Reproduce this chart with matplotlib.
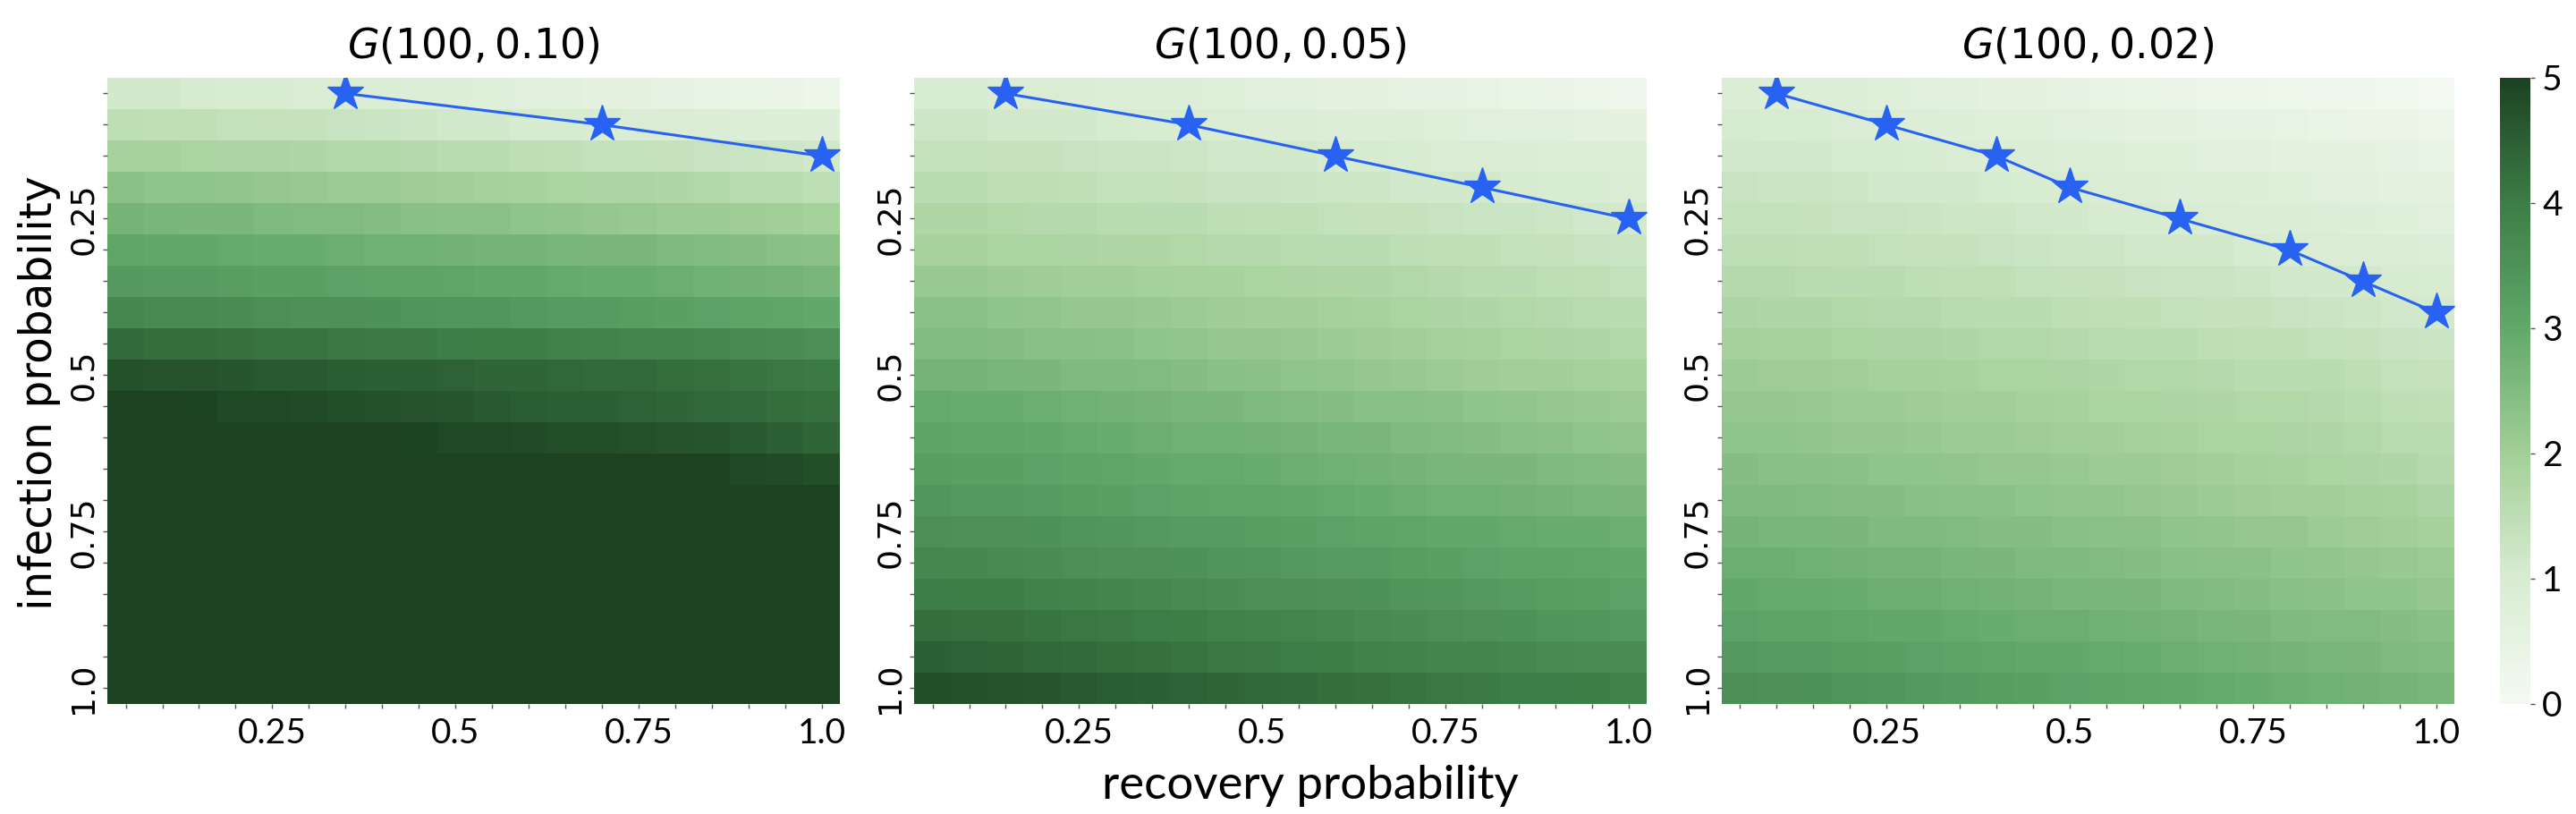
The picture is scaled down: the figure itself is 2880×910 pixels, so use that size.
import numpy as np
import matplotlib.pyplot as plt
from matplotlib.colors import LinearSegmentedColormap

# probabilities on both axes (cell centres)
probs = [0.05, 0.10, 0.15, 0.20, 0.25, 0.30, 0.35, 0.40, 0.45, 0.50,
         0.55, 0.60, 0.65, 0.70, 0.75, 0.80, 0.85, 0.90, 0.95, 1.00]
tick_labels = ["0.25", "0.5", "0.75", "1.0"]
tick_vals = [0.25, 0.5, 0.75, 1.0]

titles = ["$G(100, 0.10)$", "$G(100, 0.05)$", "$G(100, 0.02)$"]

# rows = infection probability (0.05 at top), cols = recovery probability
grid_010 = [
    [1.1, 1.1, 1.05, 1.0, 1.0, 0.95, 0.95, 0.9, 0.85, 0.8, 0.75, 0.7, 0.65, 0.6, 0.6, 0.5, 0.45, 0.4, 0.35, 0.3],
    [1.5, 1.45, 1.45, 1.4, 1.35, 1.35, 1.3, 1.25, 1.2, 1.15, 1.1, 1.05, 1.05, 1.0, 0.95, 0.95, 0.9, 0.85, 0.8, 0.8],
    [1.9, 1.9, 1.85, 1.8, 1.8, 1.75, 1.7, 1.7, 1.65, 1.6, 1.55, 1.5, 1.45, 1.4, 1.4, 1.35, 1.3, 1.25, 1.2, 1.15],
    [2.35, 2.3, 2.3, 2.25, 2.2, 2.15, 2.1, 2.1, 2.05, 2.0, 1.95, 1.9, 1.85, 1.8, 1.8, 1.75, 1.7, 1.6, 1.55, 1.5],
    [2.7, 2.65, 2.6, 2.6, 2.55, 2.5, 2.5, 2.45, 2.4, 2.35, 2.35, 2.3, 2.25, 2.2, 2.15, 2.1, 2.1, 2.05, 2.0, 1.95],
    [3.05, 3.0, 3.0, 2.95, 2.9, 2.9, 2.85, 2.8, 2.8, 2.75, 2.7, 2.7, 2.65, 2.6, 2.6, 2.55, 2.5, 2.45, 2.4, 2.35],
    [3.35, 3.3, 3.3, 3.25, 3.2, 3.2, 3.15, 3.1, 3.1, 3.05, 3.0, 3.0, 2.95, 2.9, 2.9, 2.85, 2.8, 2.75, 2.7, 2.65],
    [3.75, 3.7, 3.7, 3.65, 3.6, 3.55, 3.55, 3.5, 3.45, 3.4, 3.4, 3.35, 3.3, 3.3, 3.25, 3.2, 3.15, 3.1, 3.05, 3.0],
    [4.3, 4.25, 4.25, 4.2, 4.15, 4.15, 4.1, 4.05, 4.05, 4.0, 3.95, 3.95, 3.9, 3.85, 3.8, 3.8, 3.75, 3.7, 3.65, 3.6],
    [4.75, 4.7, 4.7, 4.65, 4.6, 4.6, 4.55, 4.5, 4.5, 4.45, 4.4, 4.4, 4.35, 4.3, 4.3, 4.25, 4.2, 4.15, 4.1, 4.05],
    [5.0, 5.0, 4.95, 4.9, 4.9, 4.85, 4.8, 4.75, 4.7, 4.65, 4.6, 4.55, 4.5, 4.5, 4.45, 4.4, 4.35, 4.3, 4.25, 4.2],
    [5.0, 5.0, 5.0, 5.0, 5.0, 5.0, 5.0, 5.0, 4.95, 4.9, 4.9, 4.85, 4.8, 4.8, 4.75, 4.7, 4.65, 4.6, 4.5, 4.4],
    [5.0, 5.0, 5.0, 5.0, 5.0, 5.0, 5.0, 5.0, 5.0, 5.0, 5.0, 5.0, 5.0, 5.0, 5.0, 5.0, 5.0, 4.9, 4.85, 4.8],
    [5.0] * 20,
    [5.0] * 20,
    [5.0] * 20,
    [5.0] * 20,
    [5.0] * 20,
    [5.0] * 20,
    [5.0] * 20,
]

grid_005 = [
    [1.0, 1.0, 0.95, 0.95, 0.9, 0.85, 0.8, 0.8, 0.75, 0.7, 0.65, 0.6, 0.55, 0.5, 0.5, 0.45, 0.4, 0.35, 0.3, 0.2],
    [1.2, 1.2, 1.15, 1.1, 1.1, 1.05, 1.0, 1.0, 0.95, 0.9, 0.9, 0.85, 0.8, 0.8, 0.75, 0.7, 0.7, 0.65, 0.6, 0.6],
    [1.4, 1.4, 1.35, 1.35, 1.3, 1.25, 1.25, 1.2, 1.15, 1.15, 1.1, 1.05, 1.05, 1.0, 0.95, 0.95, 0.9, 0.85, 0.85, 0.8],
    [1.55, 1.55, 1.5, 1.5, 1.45, 1.4, 1.4, 1.35, 1.3, 1.3, 1.25, 1.2, 1.2, 1.15, 1.1, 1.1, 1.05, 1.0, 1.0, 0.95],
    [1.75, 1.75, 1.7, 1.65, 1.65, 1.6, 1.55, 1.55, 1.5, 1.45, 1.45, 1.4, 1.35, 1.35, 1.3, 1.25, 1.25, 1.2, 1.15, 1.1],
    [1.9, 1.9, 1.85, 1.85, 1.8, 1.75, 1.75, 1.7, 1.65, 1.65, 1.6, 1.55, 1.55, 1.5, 1.45, 1.45, 1.4, 1.35, 1.3, 1.25],
    [2.15, 2.15, 2.1, 2.05, 2.0, 2.0, 1.95, 1.9, 1.9, 1.85, 1.8, 1.75, 1.75, 1.7, 1.65, 1.6, 1.55, 1.5, 1.45, 1.4],
    [2.35, 2.35, 2.3, 2.25, 2.2, 2.2, 2.15, 2.1, 2.05, 2.0, 2.0, 1.95, 1.9, 1.85, 1.8, 1.75, 1.7, 1.65, 1.6, 1.55],
    [2.5, 2.5, 2.45, 2.4, 2.4, 2.35, 2.3, 2.25, 2.2, 2.2, 2.15, 2.1, 2.05, 2.0, 1.95, 1.9, 1.85, 1.8, 1.75, 1.7],
    [2.7, 2.7, 2.65, 2.6, 2.55, 2.55, 2.5, 2.45, 2.4, 2.35, 2.3, 2.25, 2.2, 2.15, 2.1, 2.05, 2.0, 2.0, 1.95, 1.9],
    [2.95, 2.9, 2.9, 2.85, 2.8, 2.75, 2.7, 2.65, 2.6, 2.55, 2.5, 2.45, 2.4, 2.4, 2.35, 2.3, 2.25, 2.2, 2.15, 2.1],
    [3.1, 3.05, 3.05, 3.0, 2.95, 2.9, 2.85, 2.8, 2.8, 2.75, 2.7, 2.65, 2.6, 2.55, 2.5, 2.45, 2.4, 2.35, 2.3, 2.25],
    [3.25, 3.2, 3.2, 3.15, 3.1, 3.05, 3.0, 2.95, 2.95, 2.9, 2.85, 2.8, 2.75, 2.7, 2.65, 2.6, 2.6, 2.55, 2.5, 2.45],
    [3.4, 3.35, 3.35, 3.3, 3.25, 3.2, 3.15, 3.1, 3.05, 3.05, 3.0, 2.95, 2.9, 2.85, 2.8, 2.8, 2.75, 2.7, 2.65, 2.6],
    [3.6, 3.55, 3.55, 3.5, 3.45, 3.4, 3.35, 3.3, 3.3, 3.25, 3.2, 3.15, 3.1, 3.05, 3.0, 3.0, 2.95, 2.9, 2.9, 2.85],
    [3.75, 3.75, 3.7, 3.65, 3.6, 3.55, 3.55, 3.5, 3.45, 3.4, 3.35, 3.3, 3.3, 3.25, 3.2, 3.15, 3.1, 3.1, 3.05, 3.0],
    [4.0, 3.95, 3.95, 3.9, 3.85, 3.8, 3.75, 3.7, 3.65, 3.6, 3.6, 3.55, 3.5, 3.45, 3.4, 3.35, 3.3, 3.25, 3.2, 3.15],
    [4.25, 4.2, 4.2, 4.15, 4.1, 4.05, 4.0, 3.95, 3.9, 3.85, 3.8, 3.75, 3.7, 3.65, 3.6, 3.55, 3.5, 3.45, 3.4, 3.35],
    [4.5, 4.45, 4.4, 4.35, 4.3, 4.25, 4.2, 4.15, 4.1, 4.05, 4.0, 3.95, 3.9, 3.85, 3.8, 3.8, 3.75, 3.7, 3.65, 3.65],
    [4.8, 4.75, 4.7, 4.65, 4.6, 4.55, 4.5, 4.45, 4.4, 4.35, 4.3, 4.25, 4.2, 4.15, 4.1, 4.05, 4.0, 4.0, 3.95, 3.9],
]

grid_002 = [
    [0.9, 0.85, 0.85, 0.8, 0.75, 0.7, 0.65, 0.6, 0.55, 0.5, 0.45, 0.4, 0.35, 0.3, 0.3, 0.25, 0.2, 0.15, 0.1, 0.05],
    [1.05, 1.0, 1.0, 0.95, 0.9, 0.85, 0.8, 0.75, 0.75, 0.7, 0.65, 0.6, 0.55, 0.5, 0.5, 0.45, 0.4, 0.35, 0.35, 0.3],
    [1.15, 1.15, 1.1, 1.05, 1.05, 1.0, 0.95, 0.9, 0.9, 0.85, 0.8, 0.75, 0.75, 0.7, 0.65, 0.6, 0.6, 0.55, 0.5, 0.45],
    [1.3, 1.25, 1.25, 1.2, 1.15, 1.1, 1.1, 1.05, 1.0, 1.0, 0.95, 0.9, 0.85, 0.85, 0.8, 0.75, 0.7, 0.65, 0.6, 0.55],
    [1.4, 1.4, 1.35, 1.3, 1.3, 1.25, 1.2, 1.2, 1.15, 1.1, 1.05, 1.05, 1.0, 0.95, 0.9, 0.9, 0.85, 0.8, 0.75, 0.7],
    [1.5, 1.5, 1.45, 1.45, 1.4, 1.35, 1.35, 1.3, 1.25, 1.2, 1.2, 1.15, 1.1, 1.1, 1.05, 1.0, 0.95, 0.95, 0.9, 0.85],
    [1.65, 1.65, 1.6, 1.55, 1.55, 1.5, 1.45, 1.45, 1.4, 1.35, 1.35, 1.3, 1.25, 1.25, 1.2, 1.15, 1.1, 1.1, 1.05, 1.0],
    [1.8, 1.75, 1.75, 1.7, 1.65, 1.65, 1.6, 1.55, 1.55, 1.5, 1.45, 1.45, 1.4, 1.35, 1.35, 1.3, 1.25, 1.2, 1.15, 1.1],
    [1.95, 1.9, 1.9, 1.85, 1.8, 1.8, 1.75, 1.7, 1.7, 1.65, 1.6, 1.55, 1.55, 1.5, 1.45, 1.45, 1.4, 1.35, 1.3, 1.25],
    [2.1, 2.05, 2.05, 2.0, 1.95, 1.95, 1.9, 1.85, 1.85, 1.8, 1.75, 1.7, 1.7, 1.65, 1.6, 1.55, 1.55, 1.5, 1.4, 1.35],
    [2.2, 2.2, 2.15, 2.1, 2.1, 2.05, 2.0, 2.0, 1.95, 1.9, 1.85, 1.85, 1.8, 1.75, 1.7, 1.7, 1.65, 1.6, 1.5, 1.45],
    [2.3, 2.3, 2.25, 2.2, 2.2, 2.15, 2.1, 2.1, 2.05, 2.0, 2.0, 1.95, 1.9, 1.85, 1.85, 1.8, 1.75, 1.7, 1.6, 1.55],
    [2.45, 2.4, 2.4, 2.35, 2.3, 2.3, 2.25, 2.2, 2.2, 2.15, 2.1, 2.1, 2.05, 2.0, 1.95, 1.9, 1.85, 1.8, 1.75, 1.65],
    [2.55, 2.55, 2.5, 2.45, 2.45, 2.4, 2.35, 2.35, 2.3, 2.25, 2.25, 2.2, 2.15, 2.1, 2.05, 2.0, 2.0, 1.95, 1.9, 1.8],
    [2.7, 2.65, 2.65, 2.6, 2.55, 2.55, 2.5, 2.45, 2.45, 2.4, 2.35, 2.35, 2.3, 2.25, 2.2, 2.2, 2.1, 2.05, 2.0, 1.95],
    [2.85, 2.85, 2.8, 2.75, 2.7, 2.7, 2.65, 2.6, 2.55, 2.55, 2.5, 2.45, 2.4, 2.35, 2.35, 2.3, 2.25, 2.2, 2.15, 2.1],
    [3.0, 2.95, 2.95, 2.9, 2.85, 2.85, 2.8, 2.75, 2.7, 2.65, 2.65, 2.6, 2.55, 2.5, 2.45, 2.4, 2.35, 2.3, 2.3, 2.2],
    [3.15, 3.1, 3.1, 3.05, 3.0, 3.0, 2.95, 2.9, 2.85, 2.85, 2.8, 2.75, 2.7, 2.65, 2.6, 2.55, 2.5, 2.5, 2.45, 2.4],
    [3.35, 3.3, 3.3, 3.25, 3.2, 3.15, 3.1, 3.05, 3.0, 3.0, 2.95, 2.9, 2.85, 2.8, 2.75, 2.7, 2.65, 2.6, 2.55, 2.5],
    [3.6, 3.55, 3.5, 3.45, 3.4, 3.35, 3.3, 3.25, 3.2, 3.15, 3.1, 3.05, 3.0, 2.95, 2.9, 2.85, 2.8, 2.75, 2.7, 2.65],
]

# threshold stars (recovery, infection)
star_rec_010 = [0.35, 0.70, 1.00]
star_inf_010 = [0.05, 0.10, 0.15]
star_rec_005 = [0.15, 0.40, 0.60, 0.80, 1.00]
star_inf_005 = [0.05, 0.10, 0.15, 0.20, 0.25]
star_rec_002 = [0.10, 0.25, 0.40, 0.50, 0.65, 0.80, 0.90, 1.00]
star_inf_002 = [0.05, 0.10, 0.15, 0.20, 0.25, 0.30, 0.35, 0.40]

grids = [grid_010, grid_005, grid_002]
star_rec = [star_rec_010, star_rec_005, star_rec_002]
star_inf = [star_inf_010, star_inf_005, star_inf_002]

cmap = LinearSegmentedColormap.from_list(
    "greens_soft",
    ["#f4faf2", "#d8ecd2", "#a2cf97", "#62a86a", "#3d7d47", "#1c4221"])

fig = plt.figure(figsize=(28.8, 9.1), dpi=100)
lefts = [0.0417, 0.3549, 0.6684]
bottom, width, height = 0.1352, 0.2844, 0.7692

edges = np.array(probs) + 0.025
edges = np.concatenate([[probs[0] - 0.025], edges])

for i in range(3):
    ax = fig.add_axes([lefts[i], bottom, width, height])
    mesh = ax.pcolormesh(edges, edges, np.array(grids[i]), cmap=cmap,
                         vmin=0, vmax=5, shading="flat")
    ax.plot(star_rec[i], star_inf[i], color="#2862f2", lw=2.2,
            marker="*", markersize=31)
    ax.set_xlim(edges[0], edges[-1])
    ax.set_ylim(edges[-1], edges[0])
    for s in ax.spines.values():
        s.set_visible(False)
    ax.set_xticks(probs)
    ax.set_yticks(probs)
    ax.set_xticklabels([tick_labels[tick_vals.index(p)] if p in tick_vals else ""
                        for p in probs], fontfamily="Lato", fontsize=28)
    ax.set_yticklabels([tick_labels[tick_vals.index(p)] if p in tick_vals else ""
                        for p in probs], rotation=90, va="center", fontsize=26)
    ax.tick_params(axis="both", length=3.5, width=1, color="#555555")
    ax.tick_params(axis="x", pad=7)
    ax.tick_params(axis="y", pad=4)
    ax.set_title(titles[i], fontsize=33, pad=16)

cax = fig.add_axes([0.9705, bottom, 0.0118, height])
cb = fig.colorbar(mesh, cax=cax, ticks=[0, 1, 2, 3, 4, 5])
cb.outline.set_visible(False)
cax.tick_params(length=3.5, width=1, color="#555555", pad=6)
for lab in cax.get_yticklabels():
    lab.set_fontfamily("Lato")
    lab.set_fontsize(28)

fig.text(44 / 2880, 0.5176, "infection probability", rotation=90,
         ha="center", va="center", fontsize=35)
fig.text(1465 / 2880, 0.035, "recovery probability", ha="center",
         va="center", fontfamily="Lato", fontsize=38)

fig.savefig("out.png", dpi=100)
